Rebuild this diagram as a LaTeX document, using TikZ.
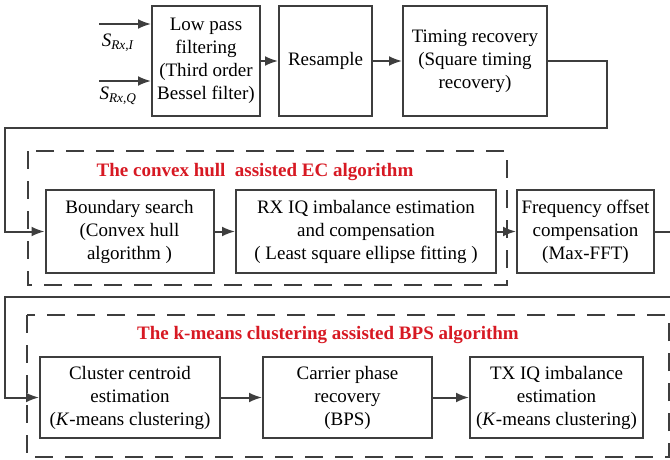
\documentclass[tikz,border=0pt]{standalone}
\usepackage{fontspec}
\setmainfont{Liberation Serif}
\usetikzlibrary{positioning,arrows.meta,calc}

\definecolor{linegray}{RGB}{62,62,62}
\definecolor{titlered}{RGB}{215,25,35}

\tikzset{
  blk/.style={draw=linegray, line width=2pt, align=center, inner sep=2pt,
    font=\fontsize{19}{23}\selectfont},
  grp/.style={draw=linegray, line width=2pt, dash pattern=on 18pt off 12pt},
  ttl/.style={text=titlered, font=\bfseries\fontsize{19}{22}\selectfont},
  lnk/.style={draw=linegray, line width=2pt, -{Latex[length=13pt,width=10pt]}},
  sig/.style={font=\fontsize{19}{22}\selectfont},
}

\begin{document}
\begin{tikzpicture}[x=1pt,y=-1pt]
  \clip (0,0) rectangle (670,460);

  % first row
  \node[blk, minimum width=108pt, minimum height=110pt] (lpf) at (206,61) {Low pass\\filtering\\(Third order\\Bessel filter)};
  \node[blk, minimum width=93pt, minimum height=110pt] (rsp) at (325.5,61) {Resample};
  \node[blk, minimum width=144pt, minimum height=110pt] (tim) at (475,61) {Timing recovery\\(Square timing\\recovery)};

  \coordinate (inI) at (99,24);
  \coordinate (inQ) at (99,81);
  \node[sig] (lblI) at (118,43) {\textit{S}\textsubscript{\textit{Rx,I}}};
  \node[sig] (lblQ) at (118,96) {\textit{S}\textsubscript{\textit{Rx,Q}}};

  \draw[lnk] (inI) -- (inI -| lpf.west);
  \draw[lnk] (inQ) -- (inQ -| lpf.west);
  \draw[lnk] (lpf) -- (rsp);
  \draw[lnk] (rsp) -- (tim);

  % second row
  \draw[grp] (28,151) rectangle (507,285);
  \node[ttl] (ecttl) at (255,172) {The convex hull\ \ assisted EC algorithm};
  \node[blk, minimum width=168pt, minimum height=83pt] (bnd) at (129.5,231.5) {Boundary search\\(Convex hull\\algorithm )};
  \node[blk, minimum width=260pt, minimum height=83pt] (rxiq) at (366,231.5) {RX IQ imbalance estimation\\and compensation\\( Least square ellipse fitting )};
  \node[blk, minimum width=137pt, minimum height=83pt] (frq) at (585.5,231.5) {Frequency offset\\compensation\\(Max-FFT)};

  \coordinate (t1) at (607,128);
  \coordinate (t2) at (5,128);
  \draw[lnk] (tim.east) -| (t1) -- (t2) |- (bnd.west);
  \draw[lnk] (bnd) -- (rxiq);
  \draw[lnk] (rxiq) -- (frq);

  % third row
  \draw[grp] (27,315) rectangle (669,457);
  \node[ttl] (bpsttl) at (328,335) {The k-means clustering assisted BPS algorithm};
  \node[blk, minimum width=180pt, minimum height=81pt] (cls) at (130,397.5) {Cluster centroid\\estimation\\(\textit{K}-means clustering)};
  \node[blk, minimum width=169pt, minimum height=81pt] (cpr) at (347.5,397.5) {Carrier phase\\recovery\\(BPS)};
  \node[blk, minimum width=173pt, minimum height=81pt] (txiq) at (556.5,397.5) {TX IQ imbalance\\estimation\\(\textit{K}-means clustering)};

  \coordinate (f1) at (690,297);
  \coordinate (f2) at (5,297);
  \draw[lnk] (frq.east) -| (f1) -- (f2) |- (cls.west);
  \draw[lnk] (cls) -- (cpr);
  \draw[lnk] (cpr) -- (txiq);

\end{tikzpicture}
\end{document}
